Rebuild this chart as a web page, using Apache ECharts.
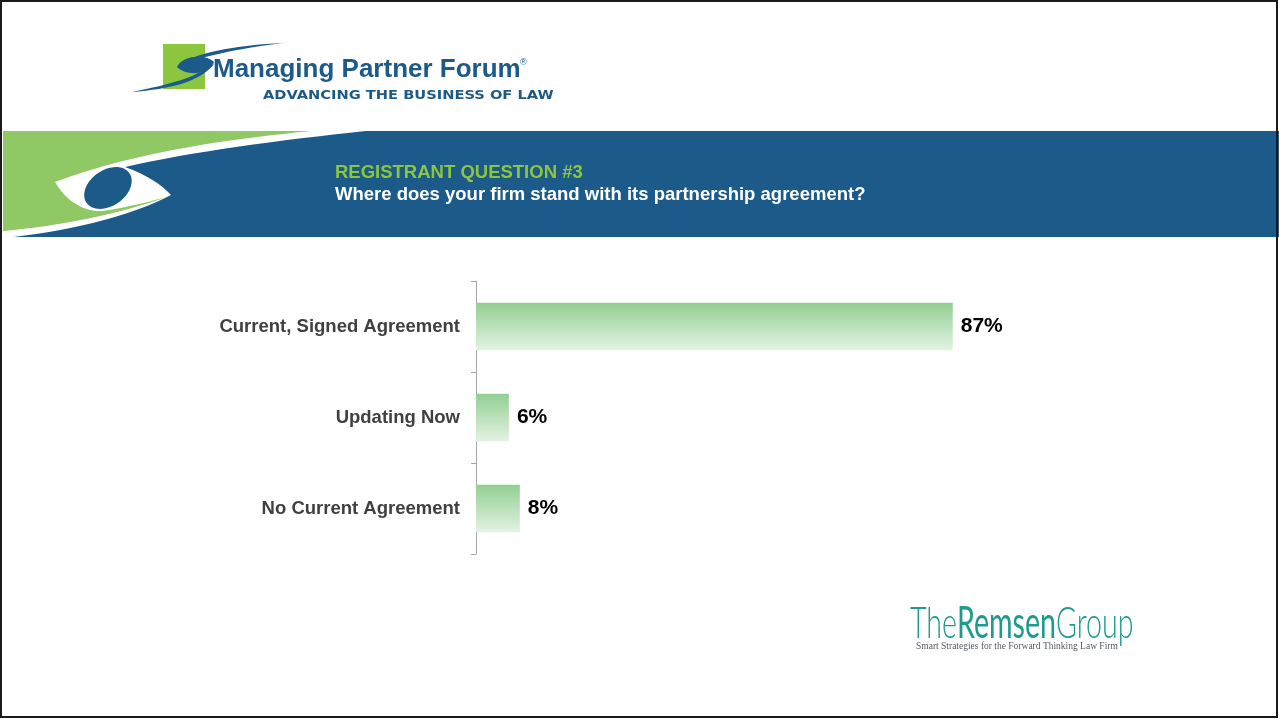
<!DOCTYPE html>
<html>
<head>
<meta charset="utf-8">
<script src="https://cdn.jsdelivr.net/npm/echarts@6/dist/echarts.min.js"></script>
<style>
html,body{margin:0;padding:0;background:#fff;}
#chart{width:1279px;height:719px;}
</style>
</head>
<body>
<div id="chart"></div>
<script>
const categories = ['Current, Signed Agreement', 'Updating Now', 'No Current Agreement'];
const values = [87, 6, 8];
const axisMax = 100;

const chart = echarts.init(document.getElementById('chart'));

const blue = '#1b5a89';
const green = '#8cc63f';
const teal = '#1f9a8b';

const decoPaths = {
  bandWhite: 'M3,131 L366,131 C280,140 190,152 125,167 C147,175 162,185 171,195 C130,217 60,233 3,238 Z',
  bandGreen: 'M3,131 L312,131 C240,138 140,150 55,182 C66,201 84,212 102,211 C130,207 152,201 166,197 C120,214 60,226 3,231 Z',
  logoTop: 'M284,43 C235,45 190,54 178,66 C195,58 240,48 284,43 Z',
  logoBlob: 'M177,67 C182,55 206,54 214,62 C211,73 188,78 177,67 Z',
  logoTail: 'M214,64 C200,82 170,89 132,92 C172,84 195,77 206,68 Z'
};
Object.keys(decoPaths).forEach(k => {
  echarts.graphic.registerShape(k, echarts.graphic.extendPath(decoPaths[k], {}));
});
const deco = (name, fill, z) => ({ type: name, z: z, shape: {}, style: { fill: fill } });

const option = {
  animation: false,
  backgroundColor: '#ffffff',
  grid: { left: 476, right: 255, top: 281, bottom: 165, containLabel: false },
  xAxis: { type: 'value', min: 0, max: axisMax, show: false },
  yAxis: {
    type: 'category',
    data: categories,
    inverse: true,
    axisLine: { show: true, lineStyle: { color: '#a6a6a6', width: 1 } },
    axisTick: { show: true, length: 5, lineStyle: { color: '#a6a6a6' } },
    axisLabel: {
      margin: 16,
      color: '#404040',
      fontFamily: 'Liberation Sans, Arial, sans-serif',
      fontWeight: 'bold',
      fontSize: 18.5
    },
    splitLine: { show: false }
  },
  series: [{
    type: 'bar',
    data: values,
    barCategoryGap: '48%',
    itemStyle: {
      color: new echarts.graphic.LinearGradient(0, 0, 0, 1, [
        { offset: 0, color: '#92cf92' },
        { offset: 1, color: '#e3f2e3' }
      ])
    },
    label: {
      show: true,
      position: 'right',
      distance: 8,
      formatter: p => p.value + '%',
      color: '#000',
      fontFamily: 'Liberation Sans, Arial, sans-serif',
      fontWeight: 'bold',
      fontSize: 21
    }
  }],
  graphic: [
    { type: 'rect', z: -10, shape: { x: 3, y: 131, width: 1276, height: 106 }, style: { fill: blue } },
    deco('bandWhite', '#ffffff', -9),
    deco('bandGreen', '#8fc865', -8),
    { type: 'ellipse', z: -7, shape: { cx: 108, cy: 188, rx: 26, ry: 18 }, rotation: 0.6, originX: 108, originY: 188, style: { fill: blue } },
    { type: 'text', style: { x: 335, y: 173, text: 'REGISTRANT QUESTION #3', fill: green, font: 'bold 18.5px "Liberation Sans", Arial, sans-serif', verticalAlign: 'middle' } },
    { type: 'text', style: { x: 335, y: 195, text: 'Where does your firm stand with its partnership agreement?', fill: '#ffffff', font: 'bold 18.5px "Liberation Sans", Arial, sans-serif', verticalAlign: 'middle' } },

    { type: 'rect', z: -5, shape: { x: 163, y: 44, width: 42, height: 45 }, style: { fill: '#8cc63f' } },
    deco('logoTop', blue, -4),
    deco('logoBlob', blue, -4),
    deco('logoTail', blue, -4),
    { type: 'text', style: { x: 213, y: 70, text: 'Managing Partner Forum', fill: blue, font: 'bold 26px "Liberation Sans", Arial, sans-serif', verticalAlign: 'middle' } },
    { type: 'text', style: { x: 520, y: 63, text: '®', fill: blue, font: '9px "Liberation Sans", Arial, sans-serif', verticalAlign: 'middle' } },
    { type: 'text', x: 263, y: 96, scaleX: 1.17, style: { x: 0, y: 0, text: 'ADVANCING THE BUSINESS OF LAW', fill: blue, font: 'bold 12.5px "DejaVu Sans", sans-serif', verticalAlign: 'middle' } },

    { type: 'text', x: 910, y: 624, scaleX: 0.65, style: { x: 0, y: 0, text: '{a|The}{b|Remsen}{a|Group}', verticalAlign: 'middle', rich: {
        a: { fontFamily: 'Lato, Roboto, sans-serif', fontWeight: 300, fontSize: 44, fill: teal },
        b: { fontFamily: 'Lato, Roboto, sans-serif', fontWeight: 'normal', fontSize: 44, fill: teal }
      } } },
    { type: 'text', style: { x: 916, y: 646, text: 'Smart Strategies for the Forward Thinking Law Firm', fill: '#555a60', font: '9.5px "Liberation Serif", "DejaVu Serif", serif', verticalAlign: 'middle' } },

    { type: 'rect', z: 100, shape: { x: 1, y: 1, width: 1276, height: 716 }, style: { fill: 'none', stroke: '#1a1a1a', lineWidth: 2 } }
  ]
};
chart.setOption(option);
</script>
</body>
</html>
